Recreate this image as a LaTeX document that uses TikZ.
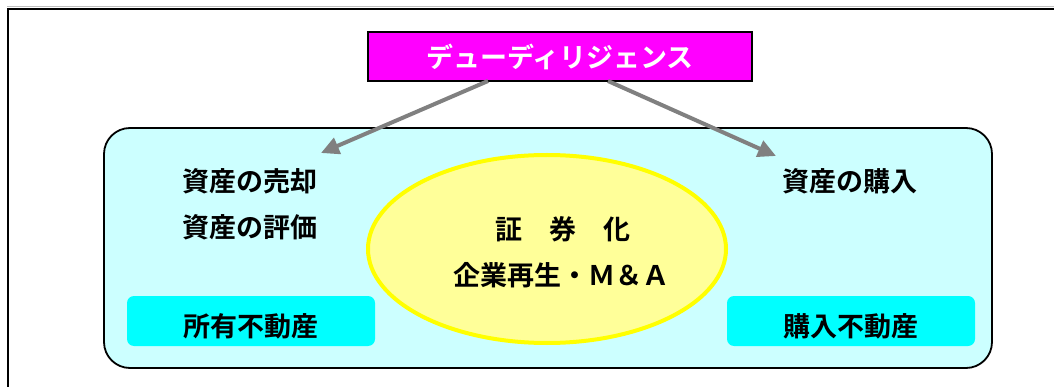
\documentclass[tikz,border=0pt]{standalone}
\usepackage{fontspec}
\newfontfamily\jp{Noto Sans CJK JP}[BoldFont={Noto Sans CJK JP Bold}]
\usetikzlibrary{shapes.geometric,arrows.meta}
\definecolor{ddmag}{HTML}{FF00FF}
\definecolor{areacyan}{HTML}{CCFFFF}
\definecolor{boxcyan}{HTML}{00FFFF}
\definecolor{corefill}{HTML}{FFFF99}
\definecolor{coreline}{HTML}{FFFF00}
\definecolor{arrowgray}{HTML}{808080}
\tikzset{
  lbl/.style={font=\jp\bfseries\fontsize{27}{30}\selectfont, text=black, inner sep=0pt},
  ddbox/.style={draw=black, line width=2pt, fill=ddmag, minimum width=384pt, minimum height=49pt, inner sep=0pt,
    font=\jp\bfseries\fontsize{27}{30}\selectfont, text=white},
  areabox/.style={draw=black, line width=1.8pt, fill=areacyan, rounded corners=26pt, minimum width=888pt, minimum height=240pt},
  corebox/.style={ellipse, draw=coreline, line width=4pt, fill=corefill, minimum width=358pt, minimum height=188pt, inner sep=0pt},
  propbox/.style={fill=boxcyan, rounded corners=7pt, minimum width=248pt, minimum height=50pt, inner sep=0pt},
  ddarrow/.style={draw=arrowgray, line width=4pt, -{Triangle[length=18pt,width=17pt]}}
}
\begin{document}
\begin{tikzpicture}[x=1pt,y=-1pt]
\clip (0,0) rectangle (1054,387);
\fill[white] (0,0) rectangle (1054,387);
% page frame
\draw[black!25, line width=1.5pt] (7,6.5) -- (1054,6.5);
\draw[black, line width=2pt] (8,400) -- (8,9) -- (1070,9);
% main area
\node[areabox] (area) at (548,248) {};
\node[corebox] (core) at (547,249) {};
\node[propbox] (ownbox) at (251,321) {};
\node[propbox] (buybox) at (851,321) {};
% top box
\node[ddbox] (dd) at (560,56.5) {\raisebox{-3pt}{デューディリジェンス}};
% labels
\node[lbl] (sell) at (250,181) {資産の売却};
\node[lbl] (eval) at (250,227) {資産の評価};
\node[lbl] (buy) at (850,181) {資産の購入};
\node[lbl] (sec) at (563,229) {証　券　化};
\node[lbl] (ma) at (561,275) {企業再生・Ｍ＆Ａ};
\node[lbl] (own) at (251,326) {所有不動産};
\node[lbl] (bought) at (851,326) {購入不動産};
% arrows
\coordinate (ls) at (488,81);
\coordinate (rs) at (608,81);
\coordinate (lt) at (321,153);
\coordinate (rt) at (776,156);
\draw[ddarrow] (ls) -- (lt);
\draw[ddarrow] (rs) -- (rt);
\end{tikzpicture}
\end{document}
